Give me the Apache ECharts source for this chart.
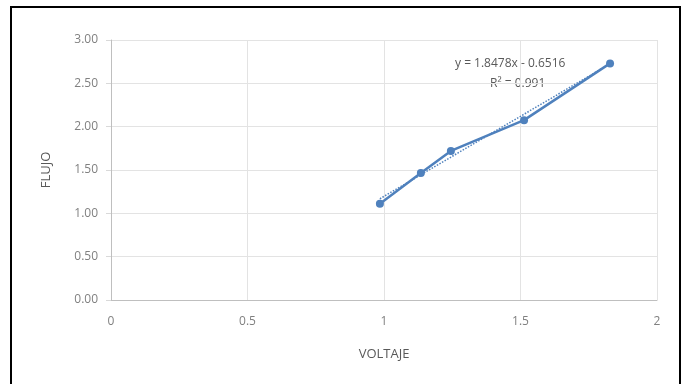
<!DOCTYPE html>
<html><head><meta charset="utf-8">
<script src="https://cdn.jsdelivr.net/npm/echarts@6/dist/echarts.min.js"></script>
<style>html,body{margin:0;padding:0;background:#fff}#c{width:684px;height:384px}</style>
</head><body><div id="c"></div>
<script>
const voltaje = [0.985, 1.135, 1.245, 1.513, 1.828];
const flujo = [1.11, 1.465, 1.72, 2.075, 2.73];
const trendX = [0.985, 1.828];
const trendY = [1.168, 2.726];
const eqText = 'y = 1.8478x - 0.6516';
const r2Text = 'R² = 0.991';
const xTitle = 'VOLTAJE';
const yTitle = 'FLUJO';

const chart = echarts.init(document.getElementById('c'));
const txt = '#808080';
chart.setOption({
  animation: false,
  backgroundColor: '#fff',
  grid: {left: 111, right: 27, top: 40, bottom: 84},
  xAxis: {
    type: 'value', min: 0, max: 2, interval: 0.5,
    name: xTitle, nameLocation: 'middle', nameGap: 48,
    nameTextStyle: {color: '#595959', fontSize: 13, fontFamily: 'Open Sans'},
    axisLine: {show: true, lineStyle: {color: '#bfbfbf'}},
    axisTick: {show: false},
    axisLabel: {color: txt, fontSize: 12, fontFamily: 'Open Sans', margin: 16},
    splitLine: {show: true, lineStyle: {color: '#e3e3e3'}}
  },
  yAxis: {
    type: 'value', min: 0, max: 3, interval: 0.5,
    name: yTitle, nameLocation: 'middle', nameGap: 58, nameRotate: 90,
    nameTextStyle: {color: '#595959', fontSize: 13, fontFamily: 'Open Sans'},
    axisLine: {show: true, lineStyle: {color: '#bfbfbf'}},
    axisTick: {show: true, inside: false, length: 5, lineStyle: {color: '#d9d9d9'}},
    axisLabel: {color: txt, fontSize: 12, fontFamily: 'Open Sans', margin: 13,
      formatter: v => v.toFixed(2)},
    splitLine: {show: true, lineStyle: {color: '#e3e3e3'}}
  },
  series: [
    {
      type: 'line',
      data: trendX.map((x, i) => [x, trendY[i]]),
      symbol: 'none',
      lineStyle: {color: '#4f81bd', width: 1.5, type: 'dotted'},
      z: 3
    },
    {
      type: 'line',
      data: voltaje.map((x, i) => [x, flujo[i]]),
      symbol: 'circle', symbolSize: 8,
      itemStyle: {color: '#4f81bd'},
      lineStyle: {color: '#4f81bd', width: 2.5},
      z: 4
    }
  ],
  graphic: [
    {type: 'rect', shape: {x: 11, y: 7, width: 669, height: 385}, style: {fill: 'none', stroke: '#000', lineWidth: 2}, silent: true},
    {type: 'text', left: 455, top: 58, style: {text: eqText, fill: '#595959', font: '12px "Open Sans"'}},
    {type: 'text', left: 490, top: 78, style: {text: r2Text, fill: '#595959', font: '12px "Open Sans"'}}
  ]
});
</script></body></html>
